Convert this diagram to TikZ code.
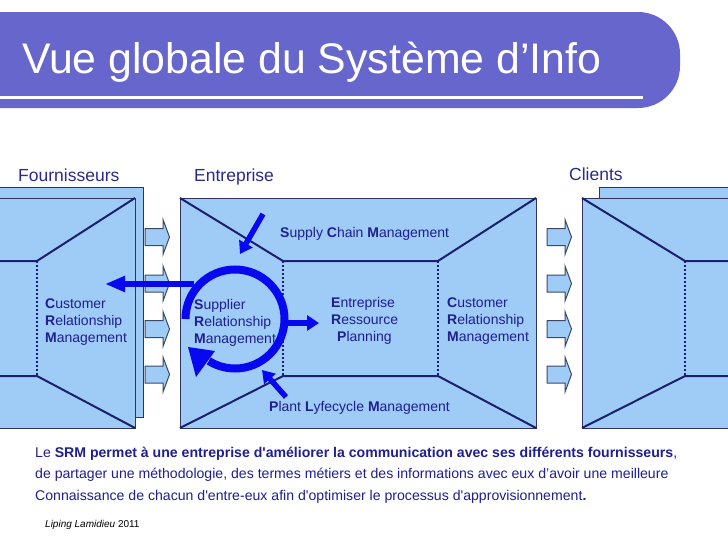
\documentclass[tikz,border=0pt]{standalone}
\usepackage{fontspec}
\setmainfont{Liberation Sans}[Ligatures=TeXOff]
\usetikzlibrary{arrows.meta}
\definecolor{barcol}{HTML}{6666CC}
\definecolor{boxfill}{HTML}{9FCBF7}
\definecolor{boxedge}{HTML}{2F3560}
\definecolor{innercol}{HTML}{1A1F6E}
\definecolor{txt}{HTML}{1F1F8F}
\definecolor{hdr}{HTML}{2B2B88}
\definecolor{ringblue}{HTML}{0808F0}
\definecolor{smalledge}{HTML}{3C4868}
\tikzset{
  sheet/.style={fill=boxfill, draw=boxedge, line width=1pt},
  innerline/.style={draw=innercol, line width=2pt, line join=round},
  dotline/.style={draw=innercol, line width=1.8pt, dash pattern=on 2pt off 2pt},
  smallarrow/.style={fill=boxfill, draw=smalledge, line width=1pt, line join=miter},
  bluearrow/.style={draw=ringblue, line width=5.5pt, -{Triangle[length=12pt,width=15pt]}},
  lbl/.style={anchor=base west, inner sep=0pt, text=txt, font=\fontsize{14}{17}\selectfont, align=left},
  hdrlbl/.style={anchor=base west, inner sep=0pt, text=hdr, font=\fontsize{17.5}{20}\selectfont},
  para/.style={anchor=base west, inner sep=0pt, text=txt, font=\fontsize{14.1}{16}\selectfont},
  blockarrow/.pic={\path[smallarrow] (0,-8.5) -- (18,-8.5) -- (18,-17.5) -- (24.5,0) -- (18,17.5) -- (18,8.5) -- (0,8.5) -- cycle;}
}
\begin{document}
\begin{tikzpicture}[x=1pt,y=-1pt]
\useasboundingbox (0,0) rectangle (728,546);
\fill[white] (0,0) rectangle (728,546);
% title bar
\fill[barcol, rounded corners=42pt] (-60,12) rectangle (680,108);
\draw[white, line width=3pt] (-5,97) -- (643,97);
\node[anchor=base west, inner sep=0pt, text=white, font=\fontsize{42.8}{50}\selectfont] (title) at (22,73) {Vue globale du Système d’Info};

% headers
\node[hdrlbl] (fourn) at (18,181) {Fournisseurs};
\node[hdrlbl] (entr) at (194,181) {Entreprise};
\node[hdrlbl] (cli) at (569,180) {Clients};

% left box (Fournisseurs)
\path[sheet] (-5,187) rectangle (143,417);
\path[sheet] (-5,198) rectangle (135,428);
\path[innerline] (135,198) -- (37,261) -- (-5,261);
\path[innerline] (-5,376) -- (37,376) -- (135,428);
\path[dotline] (37,261) -- (37,376);

% middle box (Entreprise)
\path[sheet] (180,198) rectangle (536,428);
\path[innerline] (180,198) -- (283,261) -- (438,261) -- (536,198);
\path[innerline] (180,428) -- (283,376) -- (438,376) -- (536,428);
\path[dotline] (283,261) -- (283,376);
\path[dotline] (438,261) -- (438,376);

% right box (Clients)
\path[sheet] (599,187) rectangle (740,417);
\path[sheet] (582,198) rectangle (740,428);
\path[innerline] (582,198) -- (685,261) -- (740,261);
\path[innerline] (740,376) -- (685,376) -- (582,428);
\path[dotline] (685,261) -- (685,376);

% small block arrows
\foreach \yy in {237,283.5,329,374.5} {
  \pic at (145,\yy) {blockarrow};
  \pic at (547,\yy) {blockarrow};
}

% labels
\node[lbl] (crm1) at (45,342) {\textbf{C}ustomer\\\textbf{R}elationship\\\textbf{M}anagement};
\node[lbl] (srm) at (194,343) {\textbf{S}upplier\\\textbf{R}elationship\\\textbf{M}anagement};
\node[lbl] (erp1) at (331,307) {\textbf{E}ntreprise};
\node[lbl] (erp2) at (331,324) {\textbf{R}essource};
\node[lbl] (erp3) at (337,341) {\textbf{P}lanning};
\node[lbl] (crm2) at (447,341) {\textbf{C}ustomer\\\textbf{R}elationship\\\textbf{M}anagement};
\node[lbl] (scm) at (280,237) {\textbf{S}upply \textbf{C}hain \textbf{M}anagement};
\node[lbl] (plm) at (269,411) {\textbf{P}lant \textbf{L}yfecycle \textbf{M}anagement};

% SRM ring
\coordinate (ringc) at (235,319);
\draw[ringblue, line width=8pt] (ringc) ++(180:49.5) arc[start angle=180, end angle=482, radius=49.5];
\fill[ringblue] (188,347) -- (196,377) -- (215,351) -- cycle;

% blue arrows
\coordinate (a1s) at (263,214); \coordinate (a1e) at (240,254);
\coordinate (a2s) at (286,397); \coordinate (a2e) at (262,370);
\coordinate (a3s) at (288,323); \coordinate (a3e) at (319,323);
\coordinate (a4s) at (194,284); \coordinate (a4e) at (105,284);
\draw[bluearrow] (a1s) -- (a1e);
\draw[bluearrow] (a2s) -- (a2e);
\draw[bluearrow] (a3s) -- (a3e);
\draw[bluearrow, -{Triangle[length=20pt,width=15pt]}] (a4s) -- (a4e);

% paragraph
\node[para] (p1) at (35,457) {Le \textbf{SRM permet à une entreprise d'améliorer la communication avec ses différents fournisseurs},};
\node[para] (p2) at (35,478) {de partager une méthodologie, des termes métiers et des informations avec eux d’avoir une meilleure};
\node[para] (p3) at (35,500) {Connaissance de chacun d'entre-eux afin d'optimiser le processus d'approvisionnement\textbf{.}};
\node[anchor=base west, inner sep=0pt, text=black, font=\fontsize{10}{12}\selectfont] (auth) at (45,527) {\textit{Liping Lamidieu} 2011};
\end{tikzpicture}
\end{document}
